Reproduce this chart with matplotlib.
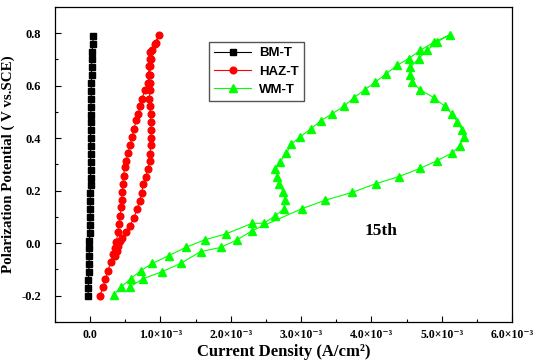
import numpy as np
import matplotlib
matplotlib.use("Agg")
import matplotlib.pyplot as plt
from matplotlib.ticker import FixedLocator, MultipleLocator

# ---- data (current in mA/cm^2 -> scaled to A/cm^2 below) ----
bm_i = [-0.03, -0.025, -0.025, -0.02, -0.015, -0.015, -0.01, -0.01, -0.005, -0.005,
        0.0, 0.0, 0.0, 0.0, 0.005, 0.005, 0.005, 0.005, 0.005, 0.005,
        0.005, 0.005, 0.01, 0.01, 0.01, 0.015, 0.015, 0.015, 0.02, 0.02,
        0.025, 0.025, 0.04, 0.04]
bm_e = [-0.20, -0.17, -0.14, -0.11, -0.08, -0.05, -0.02, 0.01, 0.04, 0.07,
        0.10, 0.13, 0.16, 0.19, 0.22, 0.25, 0.28, 0.31, 0.34, 0.37,
        0.40, 0.43, 0.46, 0.49, 0.52, 0.55, 0.58, 0.61, 0.64, 0.67,
        0.70, 0.73, 0.76, 0.79]

haz_i = [0.139, 0.182, 0.216, 0.253, 0.291, 0.324, 0.352, 0.372, 0.395, 0.409,
         0.423, 0.443, 0.447, 0.457, 0.466, 0.476, 0.490, 0.511, 0.537, 0.565,
         0.599, 0.622, 0.656, 0.685, 0.707, 0.741, 0.774, 0.821, 0.845, 0.855,
         0.869, 0.884, 0.930, 0.977,
         0.916, 0.849, 0.845, 0.835, 0.831, 0.849, 0.849, 0.841, 0.845, 0.859,
         0.864, 0.869, 0.864, 0.859, 0.855, 0.845, 0.824, 0.788, 0.756, 0.732,
         0.703, 0.670, 0.622, 0.565, 0.504, 0.457, 0.423, 0.398, 0.377, 0.355]
haz_e = [-0.200, -0.168, -0.136, -0.105, -0.073, -0.041, -0.018, 0.003, 0.042, 0.074,
         0.105, 0.137, 0.163, 0.194, 0.226, 0.258, 0.290, 0.315, 0.343, 0.373,
         0.404, 0.436, 0.468, 0.494, 0.521, 0.551, 0.582, 0.610, 0.642, 0.674,
         0.703, 0.735, 0.763, 0.792,
         0.758, 0.729, 0.703, 0.674, 0.642, 0.610, 0.582, 0.551, 0.521, 0.494,
         0.461, 0.430, 0.402, 0.373, 0.341, 0.313, 0.284, 0.252, 0.224, 0.192,
         0.160, 0.131, 0.097, 0.067, 0.042, 0.020, 0.007, -0.009, -0.028, -0.047]

wm_i = [0.338, 0.433, 0.575, 0.717, 0.884, 1.119, 1.357, 1.626, 1.925, 2.304,
        2.469, 2.635, 2.753, 2.777, 2.744, 2.692, 2.659, 2.635, 2.696, 2.791,
        2.862, 2.990, 3.139, 3.281, 3.445, 3.605, 3.753, 3.906, 4.055, 4.212,
        4.364, 4.528, 4.695, 4.884, 5.121,
        4.932, 4.790, 4.670, 4.553, 4.553, 4.577, 4.695, 4.884, 5.043, 5.149,
        5.220, 5.291, 5.312, 5.256, 5.149, 4.936, 4.690, 4.392, 4.062, 3.729,
        3.345, 3.014, 2.304, 2.091, 1.854, 1.570, 1.286, 1.026, 0.753, 0.565]
wm_e = [-0.196, -0.168, -0.136, -0.105, -0.077, -0.047, -0.016, 0.013, 0.035, 0.076,
        0.076, 0.105, 0.131, 0.163, 0.194, 0.226, 0.252, 0.284, 0.309, 0.343,
        0.378, 0.406, 0.436, 0.467, 0.494, 0.521, 0.555, 0.585, 0.614, 0.646,
        0.678, 0.703, 0.735, 0.765, 0.795,
        0.767, 0.735, 0.703, 0.671, 0.642, 0.614, 0.584, 0.555, 0.522, 0.492,
        0.462, 0.432, 0.403, 0.372, 0.344, 0.315, 0.285, 0.254, 0.227, 0.194,
        0.164, 0.132, 0.048, 0.013, -0.016, -0.032, -0.077, -0.108, -0.135, -0.166]

series_labels = ["BM-T", "HAZ-T", "WM-T"]
x_ticks = [0.0, 1e-3, 2e-3, 3e-3, 4e-3, 5e-3, 6e-3]
x_ticklabels = ["0.0", "1.0\u00d710\u207b\u00b3", "2.0\u00d710\u207b\u00b3", "3.0\u00d710\u207b\u00b3",
                "4.0\u00d710\u207b\u00b3", "5.0\u00d710\u207b\u00b3", "6.0\u00d710\u207b\u00b3"]
y_ticks = [-0.2, 0.0, 0.2, 0.4, 0.6, 0.8]
y_ticklabels = ["-0.2", "0.0", "0.2", "0.4", "0.6", "0.8"]

serif = ["Liberation Serif", "DejaVu Serif"]
sans = ["Liberation Sans", "DejaVu Sans"]

fig = plt.figure(figsize=(5.34, 3.64), dpi=100)
ax = fig.add_axes([0.103, 0.1154, 0.856, 0.8654])

scale = 1e-3
ax.plot(np.array(bm_i) * scale, bm_e, color="black", marker="s", markersize=4.8,
        linewidth=0.8, label=series_labels[0])
ax.plot(np.array(haz_i) * scale, haz_e, color="red", marker="o", markersize=4.8,
        linewidth=0.8, label=series_labels[1])
ax.plot(np.array(wm_i) * scale, wm_e, color="#00ff00", marker="^", markersize=6.4,
        linewidth=0.8, label=series_labels[2])

ax.set_xlim(-0.5e-3, 6.0e-3)
ax.set_ylim(-0.3, 0.9)

ax.xaxis.set_major_locator(FixedLocator(x_ticks))
ax.xaxis.set_minor_locator(MultipleLocator(0.5e-3))
ax.yaxis.set_major_locator(FixedLocator(y_ticks))
ax.yaxis.set_minor_locator(MultipleLocator(0.1))
ax.set_xticklabels(x_ticklabels, family=serif, fontweight="bold", fontsize=8.5)
ax.set_yticklabels(y_ticklabels, family=serif, fontweight="bold", fontsize=9)
ax.tick_params(which="both", direction="in", top=False, right=False, width=0.8)
ax.tick_params(which="major", length=4)
ax.tick_params(axis="x", which="major", pad=5)
ax.tick_params(axis="y", which="major", pad=10)
ax.tick_params(which="minor", length=2.2)
for s in ax.spines.values():
    s.set_linewidth(0.9)
    s.set_color("black")

ax.set_xlabel("Current Density (A/cm\u00b2)", family=serif, fontweight="bold",
              fontsize=12, labelpad=2)
ax.set_ylabel("Polarization Potential ( V vs.SCE)", family=serif, fontweight="bold",
              fontsize=10.8)
ax.yaxis.set_label_coords(-0.087, 0.5)

ax.text(4.14e-3, 0.048, "15th", family=serif, fontweight="bold", fontsize=12.5,
        ha="center", va="center")

leg = ax.legend(loc="upper left", bbox_to_anchor=(0.337, 0.889), borderaxespad=0,
                fancybox=False, edgecolor="#555555", framealpha=1,
                prop={"family": sans, "weight": "bold", "size": 9.5},
                handlelength=2.8, labelspacing=0.45, borderpad=0.4, handletextpad=0.6)
leg.get_frame().set_linewidth(1.0)

fig.savefig("out.png", dpi=100)
